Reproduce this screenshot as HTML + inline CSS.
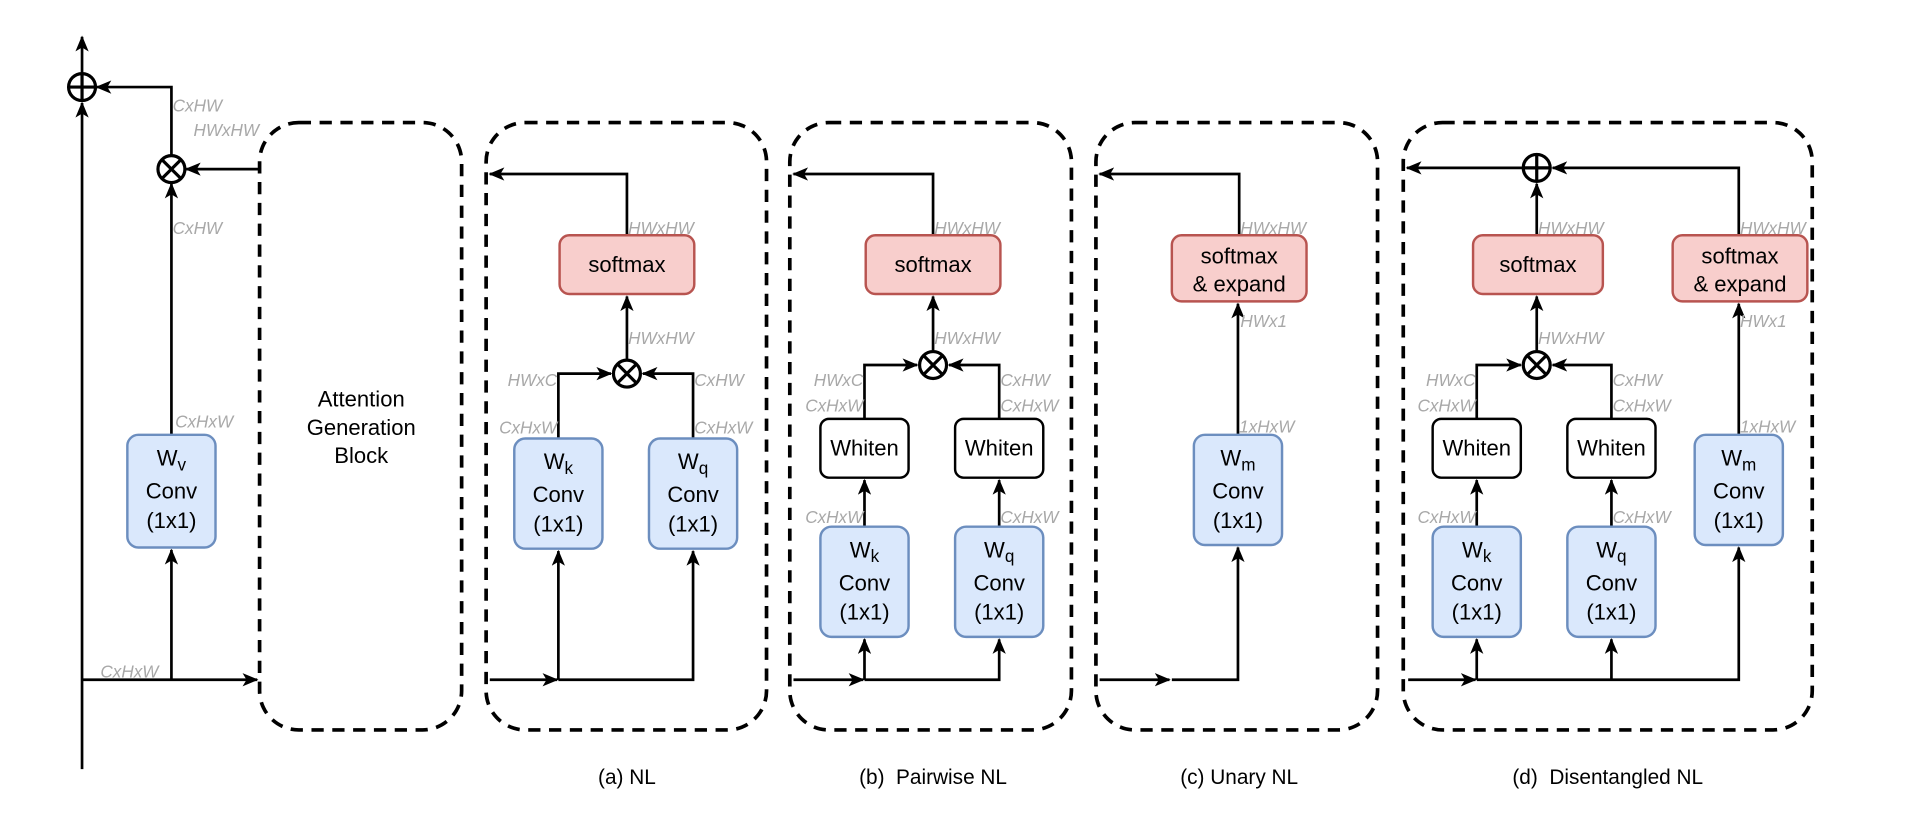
<!DOCTYPE html>
<html><head><meta charset="utf-8"><style>
html,body{margin:0;padding:0;background:#fff;}
svg{display:block;}
text{font-family:"Liberation Sans",Arial,sans-serif;}
.lb{font-size:14px;font-style:italic;fill:#a8a8a8;}
.bt{font-size:18px;fill:#000;}
.cap{font-size:17px;fill:#000;}
</style></head><body>
<svg width="1920" height="817" viewBox="0 0 1568 667" xmlns="http://www.w3.org/2000/svg">
<defs>
<marker id="ar" viewBox="0 0 12 10" refX="11" refY="5" markerWidth="13" markerHeight="11" orient="auto" markerUnits="userSpaceOnUse">
<path d="M0,0 L12,5 L0,10 L3,5 Z" fill="#000"/>
</marker>
</defs>
<g fill="none" stroke="#000" stroke-width="2.2">
<path d="M67 628 V84" marker-end="url(#ar)"/>
<path d="M67 60 V30" marker-end="url(#ar)"/>
<path d="M140 127 V71 H79" marker-end="url(#ar)"/>
<path d="M140 355 V150" marker-end="url(#ar)"/>
<path d="M212 138 H152" marker-end="url(#ar)"/>
<path d="M140 555 V449" marker-end="url(#ar)"/>
<path d="M67 555 H210" marker-end="url(#ar)"/>
<path d="M512 192 V142 H400" marker-end="url(#ar)"/>
<path d="M512 293 V242" marker-end="url(#ar)"/>
<path d="M456 358 V305 H499" marker-end="url(#ar)"/>
<path d="M566 358 V305 H525" marker-end="url(#ar)"/>
<path d="M400 555 H455" marker-end="url(#ar)"/>
<path d="M456 555 H566 V450" marker-end="url(#ar)"/>
<path d="M456 555 V450" marker-end="url(#ar)"/>
<path d="M762 192 V142 H648" marker-end="url(#ar)"/>
<path d="M762 286 V242" marker-end="url(#ar)"/>
<path d="M706 342 V298 H749" marker-end="url(#ar)"/>
<path d="M816 342 V298 H775" marker-end="url(#ar)"/>
<path d="M706 430 V392" marker-end="url(#ar)"/>
<path d="M816 430 V392" marker-end="url(#ar)"/>
<path d="M648 555 H705" marker-end="url(#ar)"/>
<path d="M706 555 H816 V522" marker-end="url(#ar)"/>
<path d="M706 555 V522" marker-end="url(#ar)"/>
<path d="M1012 192 V142 H898" marker-end="url(#ar)"/>
<path d="M1011 355 V248" marker-end="url(#ar)"/>
<path d="M898 555 H955" marker-end="url(#ar)"/>
<path d="M957 555 H1011 V447" marker-end="url(#ar)"/>
<path d="M1243 137 H1149" marker-end="url(#ar)"/>
<path d="M1420 192 V137 H1268" marker-end="url(#ar)"/>
<path d="M1255 192 V150" marker-end="url(#ar)"/>
<path d="M1255 286 V242" marker-end="url(#ar)"/>
<path d="M1206 342 V298 H1242" marker-end="url(#ar)"/>
<path d="M1316 342 V298 H1268" marker-end="url(#ar)"/>
<path d="M1206 430 V392" marker-end="url(#ar)"/>
<path d="M1316 430 V392" marker-end="url(#ar)"/>
<path d="M1420 355 V248" marker-end="url(#ar)"/>
<path d="M1150 555 H1205" marker-end="url(#ar)"/>
<path d="M1206 555 H1420 V447" marker-end="url(#ar)"/>
<path d="M1316 555 V522" marker-end="url(#ar)"/>
<path d="M1206 555 V522" marker-end="url(#ar)"/>
</g>
<g fill="none" stroke="#000" stroke-width="3" stroke-dasharray="10 7">
<rect x="212" y="100" width="165" height="496" rx="32"/>
<rect x="397" y="100" width="229" height="496" rx="32"/>
<rect x="645" y="100" width="230" height="496" rx="32"/>
<rect x="895" y="100" width="230" height="496" rx="32"/>
<rect x="1146" y="100" width="334" height="496" rx="32"/>
</g>
<g fill="#fff" stroke="#000" stroke-width="2.6">
<circle cx="67" cy="71" r="11"/><path d="M56 71 H78 M67 60 V82"/>
<circle cx="140" cy="138" r="11"/><path d="M132 130 L148 146 M148 130 L132 146"/>
<circle cx="512" cy="305" r="11"/><path d="M504 297 L520 313 M520 297 L504 313"/>
<circle cx="762" cy="298" r="11"/><path d="M754 290 L770 306 M770 290 L754 306"/>
<circle cx="1255" cy="298" r="11"/><path d="M1247 290 L1263 306 M1263 290 L1247 306"/>
<circle cx="1255" cy="137" r="11"/><path d="M1244 137 H1266 M1255 126 V148"/>
</g>
<g stroke-width="2">
<g fill="#dae8fc" stroke="#6c8ebf">
<rect x="104" y="355" width="72" height="92" rx="9"/>
<rect x="420" y="358" width="72" height="90" rx="9"/>
<rect x="530" y="358" width="72" height="90" rx="9"/>
<rect x="670" y="430" width="72" height="90" rx="9"/>
<rect x="780" y="430" width="72" height="90" rx="9"/>
<rect x="975" y="355" width="72" height="90" rx="9"/>
<rect x="1170" y="430" width="72" height="90" rx="9"/>
<rect x="1280" y="430" width="72" height="90" rx="9"/>
<rect x="1384" y="355" width="72" height="90" rx="9"/>
</g>
<g fill="#f8cecc" stroke="#b85450">
<rect x="457" y="192" width="110" height="48" rx="8"/>
<rect x="707" y="192" width="110" height="48" rx="8"/>
<rect x="957" y="192" width="110" height="54" rx="8"/>
<rect x="1203" y="192" width="106" height="48" rx="8"/>
<rect x="1366" y="192" width="110" height="54" rx="8"/>
</g>
<g fill="#fff" stroke="#000">
<rect x="670" y="342" width="72" height="48" rx="7"/>
<rect x="780" y="342" width="72" height="48" rx="7"/>
<rect x="1170" y="342" width="72" height="48" rx="7"/>
<rect x="1280" y="342" width="72" height="48" rx="7"/>
</g>
</g>
<g class="bt" text-anchor="middle">
<text x="140" y="380">W<tspan font-size="14" dy="4">v</tspan></text><text x="140" y="407">Conv</text><text x="140" y="431">(1x1)</text>
<text x="456" y="383">W<tspan font-size="14" dy="4">k</tspan></text><text x="456" y="410">Conv</text><text x="456" y="434">(1x1)</text>
<text x="566" y="383">W<tspan font-size="14" dy="4">q</tspan></text><text x="566" y="410">Conv</text><text x="566" y="434">(1x1)</text>
<text x="706" y="455">W<tspan font-size="14" dy="4">k</tspan></text><text x="706" y="482">Conv</text><text x="706" y="506">(1x1)</text>
<text x="816" y="455">W<tspan font-size="14" dy="4">q</tspan></text><text x="816" y="482">Conv</text><text x="816" y="506">(1x1)</text>
<text x="1011" y="380">W<tspan font-size="14" dy="4">m</tspan></text><text x="1011" y="407">Conv</text><text x="1011" y="431">(1x1)</text>
<text x="1206" y="455">W<tspan font-size="14" dy="4">k</tspan></text><text x="1206" y="482">Conv</text><text x="1206" y="506">(1x1)</text>
<text x="1316" y="455">W<tspan font-size="14" dy="4">q</tspan></text><text x="1316" y="482">Conv</text><text x="1316" y="506">(1x1)</text>
<text x="1420" y="380">W<tspan font-size="14" dy="4">m</tspan></text><text x="1420" y="407">Conv</text><text x="1420" y="431">(1x1)</text>
<text x="512" y="222">softmax</text>
<text x="762" y="222">softmax</text>
<text x="1256" y="222">softmax</text>
<text x="1012" y="215">softmax</text><text x="1012" y="238">&amp; expand</text>
<text x="1421" y="215">softmax</text><text x="1421" y="238">&amp; expand</text>
<text x="706" y="372">Whiten</text><text x="816" y="372">Whiten</text>
<text x="1206" y="372">Whiten</text><text x="1316" y="372">Whiten</text>
<text x="295" y="332">Attention</text><text x="295" y="355">Generation</text><text x="295" y="378">Block</text>
</g>
<g class="lb">
<text x="141" y="91">CxHW</text><text x="158" y="111">HWxHW</text><text x="141" y="191">CxHW</text><text x="143" y="349">CxHxW</text><text x="82" y="553">CxHxW</text>
<text x="513" y="191">HWxHW</text><text x="513" y="281">HWxHW</text><text x="567" y="315">CxHW</text><text x="567" y="354">CxHxW</text>
<text x="763" y="191">HWxHW</text><text x="763" y="281">HWxHW</text><text x="817" y="315">CxHW</text><text x="817" y="336">CxHxW</text><text x="817" y="427">CxHxW</text>
<text x="1013" y="191">HWxHW</text><text x="1013" y="267">HWx1</text><text x="1012" y="353">1xHxW</text>
<text x="1256" y="191">HWxHW</text><text x="1256" y="281">HWxHW</text><text x="1317" y="315">CxHW</text><text x="1317" y="336">CxHxW</text><text x="1317" y="427">CxHxW</text>
<text x="1421" y="191">HWxHW</text><text x="1421" y="267">HWx1</text><text x="1421" y="353">1xHxW</text>
</g>
<g class="lb" text-anchor="end">
<text x="455" y="315">HWxC</text><text x="455" y="354">CxHxW</text>
<text x="705" y="315">HWxC</text><text x="705" y="336">CxHxW</text><text x="705" y="427">CxHxW</text>
<text x="1205" y="315">HWxC</text><text x="1205" y="336">CxHxW</text><text x="1205" y="427">CxHxW</text>
</g>
<g class="cap" text-anchor="middle">
<text x="512" y="640">(a) NL</text>
<text x="762" y="640">(b)&#160;&#160;Pairwise NL</text>
<text x="1012" y="640">(c) Unary NL</text>
<text x="1313" y="640">(d)&#160;&#160;Disentangled NL</text>
</g>
</svg>
</body></html>
